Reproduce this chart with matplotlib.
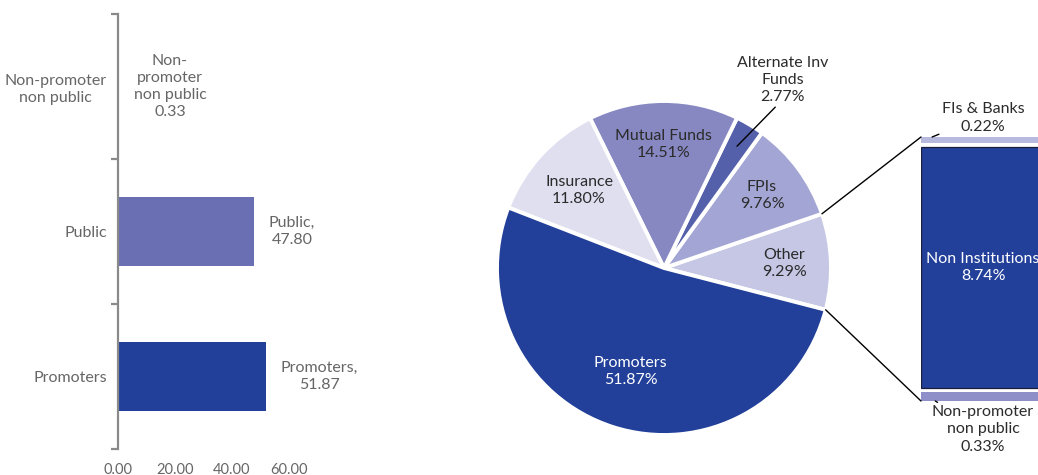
import matplotlib
matplotlib.use("Agg")
import matplotlib.pyplot as plt
import numpy as np
from matplotlib.patches import ConnectionPatch

plt.rcParams['font.family'] = ['Lato', 'DejaVu Sans']

# ---------------- data ----------------
bar_categories = ["Promoters", "Public", "Non-promoter\nnon public"]
bar_values = [51.87, 47.80, 0.33]
bar_value_labels = ["Promoters,\n51.87", "Public,\n47.80", "Non-\npromoter\nnon public\n0.33"]
bar_xticks = [0, 20, 40, 60]

pie_labels = ["Other", "FPIs", "Alternate Inv\nFunds", "Mutual Funds", "Insurance", "Promoters"]
pie_values = [9.29, 9.76, 2.77, 14.51, 11.80, 51.87]

other_labels = ["Non-promoter\nnon public", "Non Institutions", "FIs & Banks"]
other_values = [0.33, 8.74, 0.22]

# ---------------- style ----------------
W, H = 1038, 475
GRAY = "#666666"
DARK = "#2b2b2b"
bar_colors = ["#22409A", "#6A6FB3", "#8E8FC8"]
pie_colors = ["#C5C7E4", "#A3A6D4", "#5560AA", "#8788C2", "#DFDFF0", "#22409A"]
other_colors = ["#8E8FC8", "#22409A", "#B8B9DE"]
FS = 11.5
LS = 1.3

fig = plt.figure(figsize=(W / 100, H / 100), dpi=100)

def px_axes(x0, y0, x1, y1):
    return fig.add_axes([x0 / W, 1 - y1 / H, (x1 - x0) / W, (y1 - y0) / H])

# ---------------- left bar chart ----------------
ax1 = px_axes(118, 14, 118 + 2.85 * 60, 449)
y = np.arange(len(bar_categories))
ax1.barh(y, bar_values, height=0.47, color=bar_colors)
ax1.set_xlim(0, 60)
ax1.set_ylim(-0.5, 2.5)
for s in ["top", "right", "bottom"]:
    ax1.spines[s].set_visible(False)
ax1.spines["left"].set_color("#8a8a8a")
ax1.spines["left"].set_linewidth(1.6)
ax1.set_yticks(y)
ax1.set_yticklabels(bar_categories, multialignment="center", linespacing=LS)
ax1.set_yticks(np.arange(-0.5, 2.6, 1.0), minor=True)
ax1.tick_params(axis="y", which="major", length=0, pad=8, labelsize=FS, labelcolor=GRAY)
ax1.tick_params(axis="y", which="minor", length=5, width=1.6, color="#8a8a8a")
ax1.set_xticks(bar_xticks)
ax1.set_xticklabels([f"{v:.2f}" for v in bar_xticks])
ax1.tick_params(axis="x", length=0, pad=10, labelsize=10.5, labelcolor=GRAY)
for yi, v, lab in zip(y, bar_values, bar_value_labels):
    ax1.annotate(lab, xy=(v, yi), xytext=(10.5, 0), textcoords="offset points",
                 ha="left", va="center", multialignment="center", linespacing=LS,
                 fontsize=FS, color=GRAY, annotation_clip=False)

# ---------------- pie ----------------
cx, cy, r = 664, 268, 167
ax2 = px_axes(cx - r, cy - r, cx + r, cy + r)
start = -14.5
wedges, _ = ax2.pie(pie_values, colors=pie_colors, startangle=start, counterclock=True,
                    radius=1, wedgeprops=dict(edgecolor="white", linewidth=2.8))
ax2.set_xlim(-1, 1)
ax2.set_ylim(-1, 1)
ax2.set_aspect("equal")
ax2.axis("off")

label_r = [0.72, 0.73, None, 0.74, 0.69, 0.65]
for w, lab, v, lr in zip(wedges, pie_labels, pie_values, label_r):
    th = np.deg2rad((w.theta1 + w.theta2) / 2)
    txt = f"{lab}\n{v:.2f}%"
    if lr is None:
        # leader line for the small slice
        p0 = (0.85 * np.cos(th), 0.85 * np.sin(th))
        ax2.annotate(txt, xy=p0, xytext=(0.71, 0.98), textcoords="data",
                     ha="center", va="bottom", fontsize=FS, color=DARK, linespacing=LS,
                     arrowprops=dict(arrowstyle="-", color="black", lw=1,
                                     shrinkA=0, shrinkB=0, relpos=(0.45, 0.0)),
                     annotation_clip=False)
        continue
    col = "white" if lab == "Promoters" else DARK
    ax2.text(lr * np.cos(th), lr * np.sin(th), txt, ha="center", va="center",
             fontsize=FS, color=col, clip_on=False, linespacing=LS)

# ---------------- breakdown of "Other" ----------------
gap = 0.16
bottoms = []
acc = 0.0
for i, v in enumerate(other_values):
    bottoms.append(acc + i * gap)
    acc += v
top = acc + gap * (len(other_values) - 1)
ax3 = px_axes(921, 137, 1080, 401)
edgecols = ["none", "#1c1c3c", "none"]
for b, v, c, ec in zip(bottoms, other_values, other_colors, edgecols):
    ax3.bar(0, v, bottom=b, width=1, align="edge", color=c, edgecolor=ec, linewidth=0.9)
ax3.set_xlim(0, 1)
ax3.set_ylim(0, top)
ax3.axis("off")

# labels on the stacked bar
xc = (983 - 921) / (1080 - 921)
mid = bottoms[1] + other_values[1] / 2
ax3.text(xc, mid, f"{other_labels[1]}\n{other_values[1]:.2f}%", ha="center", va="center",
         fontsize=FS, color="white", linespacing=LS)
ax3.annotate(f"{other_labels[2]}\n{other_values[2]:.2f}%",
             xy=(0.07, bottoms[2] + other_values[2]), xytext=(xc, top + 0.12),
             ha="center", va="bottom", fontsize=FS, color=DARK, linespacing=LS,
             arrowprops=dict(arrowstyle="-", color="black", lw=1, shrinkA=0, shrinkB=0,
                             relpos=(0.12, 0.15)),
             annotation_clip=False)
ax3.annotate(f"{other_labels[0]}\n{other_values[0]:.2f}%",
             xy=(0.09, bottoms[0]), xytext=(xc, -0.15),
             ha="center", va="top", fontsize=FS, color=DARK, linespacing=LS,
             arrowprops=dict(arrowstyle="-", color="black", lw=1, shrinkA=0, shrinkB=0,
                             relpos=(0.18, 0.9)),
             annotation_clip=False)

# connection lines from the "Other" wedge to the stacked bar
w_other = wedges[0]
for ang, yb in [(w_other.theta2, top), (w_other.theta1, 0)]:
    t = np.deg2rad(ang)
    con = ConnectionPatch(xyA=(np.cos(t), np.sin(t)), coordsA=ax2.transData,
                          xyB=(0, yb), coordsB=ax3.transData,
                          color="black", lw=1)
    fig.add_artist(con)

fig.savefig("out.png", dpi=100)
